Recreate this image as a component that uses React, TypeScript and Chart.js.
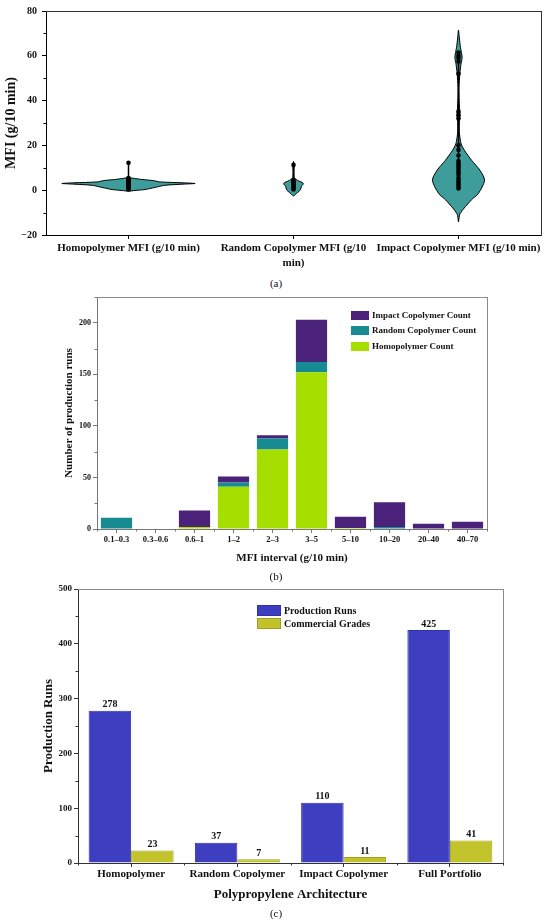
import { useEffect, useRef } from "react";
import { Chart, registerables } from "chart.js";

Chart.register(...registerables);

const SERIF = "'Liberation Serif', 'DejaVu Serif', serif";
Chart.defaults.font.family = SERIF;
Chart.defaults.color = "#111";

// ---- (a) violin plot ----
const violinLabels = [
  ["Homopolymer MFI (g/10 min)"],
  ["Random Copolymer MFI (g/10", "min)"],
  ["Impact Copolymer MFI (g/10 min)"],
];

// density outline: MFI level -> half width (in category units)
const homoLevels = [-0.5, -0.2, 0.3, 1.0, 1.5, 2.2, 2.7, 3.0, 3.3, 3.7, 4.3, 4.8, 5.3, 5.6];
const homoWidths = [0, 0.03, 0.1, 0.145, 0.176, 0.22, 0.33, 0.404, 0.33, 0.19, 0.15, 0.08, 0.03, 0];
const randomLevels = [-2.7, -1.8, -1, 0, 1, 2, 2.8, 3.4, 4, 4.8, 5.5, 8, 11, 12, 12.9];
const randomWidths = [0, 0.012, 0.025, 0.04, 0.045, 0.05, 0.06, 0.055, 0.035, 0.015, 0.005, 0.003, 0.004, 0.002, 0];
const impactLevels = [-14.2, -10.4, -4.4, -1.5, 4.4, 8.9, 13.3, 17.8, 20.7, 25.2, 29.6, 34, 40, 45.9, 51.9, 56.3, 59.3, 63.7, 68, 71.5];
const impactWidths = [0, 0.01, 0.077, 0.12, 0.158, 0.13, 0.08, 0.036, 0.016, 0.006, 0.005, 0.008, 0.004, 0.003, 0.008, 0.015, 0.022, 0.012, 0.005, 0];

// individual runs shown as dots
const homoPoints = [0.4, 0.8, 1.2, 1.6, 2, 2.3, 2.6, 3, 3.2, 3.5, 3.8, 4.2, 4.6, 5, 5.4, 12.2];
const randomPoints = [0.3, 0.8, 1.5, 2, 2.5, 3, 3.5, 4, 4.5, 11.3];
const impactPoints = [0.8, 1.5, 2.5, 3.5, 4.5, 5.5, 7, 8, 9, 10, 11, 12, 13, 15.5, 18, 20, 32, 33.5, 35, 52, 57.5, 59, 60, 61.5];

// ---- (b) stacked histogram ----
const intervals = ["0.1–0.3", "0.3–0.6", "0.6–1", "1–2", "2–3", "3–5", "5–10", "10–20", "20–40", "40–70"];
const homoCounts = [0, 0, 2, 41, 77, 152, 1, 0, 0, 0];
const randomCounts = [11, 0, 0, 4, 11, 10, 0, 2, 0, 0];
const impactCounts = [0, 0, 16, 6, 3, 41, 11, 24, 5, 7];

// ---- (c) grouped bars ----
const architectures = ["Homopolymer", "Random Copolymer", "Impact Copolymer", "Full Portfolio"];
const productionRuns = [278, 37, 110, 425];
const commercialGrades = [23, 7, 11, 41];

const VIOLIN = "#3e9d9b";
const PURPLE = "#4b2279";
const TEAL = "#178a92";
const GREEN = "#a6de00";
const BLUE = "#3e3ec0";
const OLIVE = "#c2c22b";

// minor ticks on the value axis and at category boundaries
const decor = {
  id: "decor",
  afterDraw(chart: any, _args: any, opts: any) {
    const { ctx, chartArea: a } = chart;
    ctx.save();
    ctx.setLineDash([]);
    ctx.globalAlpha = 1;
    ctx.lineWidth = 1;
    ctx.strokeStyle = opts.tickColor || "#000";
    const y = chart.scales.y;
    if (opts.minorStep) {
      for (let v = y.min; v <= y.max; v += opts.minorStep) {
        if (Math.abs(v % opts.majorStep) < 1e-6) continue;
        const py = Math.round(y.getPixelForValue(v)) + 0.5;
        ctx.beginPath();
        ctx.moveTo(a.left - 2.5, py);
        ctx.lineTo(a.left, py);
        ctx.stroke();
      }
    }
    if (opts.boundaries) {
      const x = chart.scales.x;
      const n = chart.data.labels.length;
      const half = (x.getPixelForValue(1) - x.getPixelForValue(0)) / 2;
      for (let i = 0; i <= n; i++) {
        const px = Math.round(x.getPixelForValue(i) - half) + 0.5;
        ctx.beginPath();
        ctx.moveTo(px, a.bottom);
        ctx.lineTo(px, a.bottom + 2.5);
        ctx.stroke();
      }
    }
    ctx.restore();
  },
};

const barValues = {
  id: "barValues",
  afterDatasetsDraw(chart: any, _args: any, opts: any) {
    if (!opts.display) return;
    const { ctx } = chart;
    ctx.save();
    ctx.font = `bold 10px ${SERIF}`;
    ctx.fillStyle = "#111";
    ctx.textAlign = "center";
    ctx.textBaseline = "bottom";
    chart.data.datasets.forEach((ds: any, i: number) => {
      chart.getDatasetMeta(i).data.forEach((el: any, j: number) => {
        ctx.fillText(String(ds.data[j]), el.x, el.y - 1);
      });
    });
    ctx.restore();
  },
};

// empty top/right axes that only draw the frame
function frameAxes(color: string): any {
  const base = {
    type: "linear",
    display: true,
    grid: { display: false, drawTicks: false },
    ticks: { display: false },
    border: { display: true, color },
  };
  return {
    xTop: { ...base, position: "top", afterFit: (s: any) => { s.height = 0; } },
    yRight: { ...base, position: "right", afterFit: (s: any) => { s.width = 0; } },
  };
}

function outline(center: number, levels: number[], widths: number[]) {
  const right = levels.map((v, i) => ({ x: center + widths[i], y: v }));
  const left = levels.map((v, i) => ({ x: center - widths[i], y: v })).reverse().slice(1);
  return [...right, ...left];
}

function violinConfig(): any {
  const groups = [
    { levels: homoLevels, widths: homoWidths, points: homoPoints },
    { levels: randomLevels, widths: randomWidths, points: randomPoints },
    { levels: impactLevels, widths: impactWidths, points: impactPoints },
  ];
  const datasets: any[] = [];
  groups.forEach((g, i) => {
    const c = i + 1;
    datasets.push({
      data: outline(c, g.levels, g.widths),
      showLine: true,
      fill: "shape",
      backgroundColor: VIOLIN,
      borderColor: "#000",
      borderWidth: 1,
      pointRadius: 0,
      tension: 0.25,
      order: 3,
    });
    datasets.push({
      data: [
        { x: c, y: Math.min(...g.points) },
        { x: c, y: Math.max(...g.points) },
      ],
      showLine: true,
      borderColor: "#000",
      borderWidth: 1.5,
      pointRadius: 0,
      order: 2,
    });
    datasets.push({
      data: g.points.map((v) => ({ x: c, y: v })),
      showLine: false,
      pointRadius: 2.3,
      backgroundColor: "#000",
      borderColor: "#000",
      borderWidth: 0,
      order: 1,
    });
  });

  return {
    type: "scatter",
    data: { datasets },
    options: {
      animation: false,
      responsive: true,
      maintainAspectRatio: false,
      layout: { padding: { top: 10, right: 9, left: 0, bottom: 0 }, autoPadding: false },
      plugins: {
        legend: { display: false },
        tooltip: { enabled: false },
        decor: { tickColor: "#000", minorStep: 10, majorStep: 20 },
      },
      scales: {
        x: {
          type: "linear",
          position: "bottom",
          min: 0.5,
          max: 3.5,
          afterBuildTicks: (s: any) => {
            s.ticks = [1, 2, 3].map((v) => ({ value: v }));
          },
          afterFit: (s: any) => {
            s.height = 35;
          },
          ticks: {
            callback: (v: any) => violinLabels[Number(v) - 1],
            font: { size: 11, weight: "bold", lineHeight: 1.35 },
            padding: 2,
            maxRotation: 0,
            autoSkip: false,
            color: "#111",
          },
          grid: { drawOnChartArea: false, tickLength: 4, tickColor: "#000" },
          border: { color: "#000" },
        },
        y: {
          position: "left",
          min: -20,
          max: 80,
          afterFit: (s: any) => {
            s.width = 46;
          },
          ticks: {
            stepSize: 20,
            callback: (v: any) => (v < 0 ? "−" + Math.abs(v) : String(v)),
            font: { size: 10, weight: "bold" },
            padding: 5,
            color: "#111",
          },
          grid: { drawOnChartArea: false, tickLength: 4, tickColor: "#000" },
          border: { color: "#000" },
          title: {
            display: true,
            text: "MFI (g/10 min)",
            font: { size: 14, weight: "bold" },
            padding: { top: 2.6, bottom: 0 },
            color: "#111",
          },
        },
        ...frameAxes("#333"),
      },
    },
    plugins: [decor],
  };
}

function histConfig(): any {
  return {
    type: "bar",
    data: {
      labels: intervals,
      datasets: [
        { label: "Homopolymer Count", data: homoCounts, backgroundColor: GREEN },
        { label: "Random Copolymer Count", data: randomCounts, backgroundColor: TEAL },
        { label: "Impact Copolymer Count", data: impactCounts, backgroundColor: PURPLE },
      ],
    },
    options: {
      animation: false,
      responsive: true,
      maintainAspectRatio: false,
      datasets: { bar: { categoryPercentage: 0.8, barPercentage: 1 } },
      layout: { padding: { top: 7, right: 63, left: 0, bottom: 0 }, autoPadding: false },
      plugins: {
        legend: { display: false },
        tooltip: { enabled: false },
        decor: { tickColor: "#777", minorStep: 25, majorStep: 50, boundaries: true },
      },
      scales: {
        x: {
          stacked: true,
          position: "bottom",
          afterFit: (s: any) => {
            s.height = 41;
          },
          ticks: { font: { size: 8.5, weight: "bold" }, padding: 1.5, maxRotation: 0, autoSkip: false, color: "#111" },
          grid: { drawOnChartArea: false, offset: false, tickLength: 4, tickColor: "#777" },
          border: { color: "#777" },
          title: {
            display: true,
            text: "MFI interval (g/10 min)",
            font: { size: 11, weight: "bold" },
            padding: { top: 0, bottom: 5.4 },
            color: "#111",
          },
        },
        y: {
          stacked: true,
          position: "left",
          min: 0,
          max: 225,
          afterFit: (s: any) => {
            s.width = 97;
          },
          ticks: { stepSize: 50, includeBounds: false, font: { size: 8, weight: "bold" }, padding: 2, color: "#111" },
          grid: { drawOnChartArea: false, tickLength: 4, tickColor: "#777" },
          border: { color: "#777" },
          title: {
            display: true,
            text: "Number of production runs",
            font: { size: 11, weight: "bold" },
            padding: { top: 63, bottom: 0 },
            color: "#111",
          },
        },
        ...frameAxes("#8a8a8a"),
      },
    },
    plugins: [decor],
  };
}

function runsConfig(): any {
  return {
    type: "bar",
    data: {
      labels: architectures,
      datasets: [
        { label: "Production Runs", data: productionRuns, backgroundColor: BLUE, borderColor: "#3030aa", borderWidth: 1 },
        { label: "Commercial Grades", data: commercialGrades, backgroundColor: OLIVE, borderColor: "#a0a01c", borderWidth: 1 },
      ],
    },
    options: {
      animation: false,
      responsive: true,
      maintainAspectRatio: false,
      datasets: { bar: { categoryPercentage: 0.8, barPercentage: 1 } },
      layout: { padding: { top: 9, right: 47, left: 0, bottom: 0 }, autoPadding: false },
      plugins: {
        legend: { display: false },
        tooltip: { enabled: false },
        decor: { tickColor: "#333", minorStep: 50, majorStep: 100, boundaries: true },
        barValues: { display: true },
      },
      scales: {
        x: {
          position: "bottom",
          afterFit: (s: any) => {
            s.height = 42;
          },
          ticks: { font: { size: 11, weight: "bold" }, padding: 1, maxRotation: 0, autoSkip: false, color: "#111" },
          grid: { drawOnChartArea: false, offset: false, tickLength: 4, tickColor: "#333" },
          border: { color: "#333" },
          title: {
            display: true,
            text: "Polypropylene Architecture",
            font: { size: 13, weight: "bold" },
            padding: { top: 0, bottom: 2.2 },
            color: "#111",
          },
        },
        y: {
          position: "left",
          min: 0,
          max: 500,
          afterFit: (s: any) => {
            s.width = 78;
          },
          ticks: { stepSize: 100, font: { size: 9, weight: "bold" }, padding: 2, color: "#111" },
          grid: { drawOnChartArea: false, tickLength: 4, tickColor: "#333" },
          border: { color: "#333" },
          title: {
            display: true,
            text: "Production Runs",
            font: { size: 13, weight: "bold" },
            padding: { top: 41, bottom: 0 },
            color: "#111",
          },
        },
        ...frameAxes("#8a8a8a"),
      },
    },
    plugins: [decor, barValues],
  };
}

function Panel({ top, height, make }: { top: number; height: number; make: () => any }) {
  const ref = useRef<HTMLCanvasElement>(null);
  useEffect(() => {
    if (!ref.current) return;
    const chart = new Chart(ref.current, make());
    return () => chart.destroy();
  }, []);
  return (
    <div style={{ position: "absolute", left: 0, top, width: 550, height }}>
      <canvas ref={ref} />
    </div>
  );
}

function Caption({ y, text }: { y: number; text: string }) {
  return (
    <div
      style={{
        position: "absolute",
        left: 0,
        width: 552,
        top: y - 8,
        height: 16,
        lineHeight: "16px",
        textAlign: "center",
        fontSize: 11,
        color: "#111",
      }}
    >
      {text}
    </div>
  );
}

function LegendRow({ x, y, w, h, color, border, label, size }: any) {
  return (
    <div style={{ position: "absolute", left: x, top: y - 8, height: 16, display: "flex", alignItems: "center" }}>
      <span
        style={{
          width: w,
          height: h,
          background: color,
          boxSizing: "border-box",
          border: border ? `1px solid ${border}` : "none",
          marginRight: 3,
        }}
      />
      <span style={{ fontSize: size, fontWeight: "bold", color: "#111", whiteSpace: "nowrap" }}>{label}</span>
    </div>
  );
}

export default function App() {
  return (
    <div
      style={{
        position: "absolute",
        left: 0,
        top: 0,
        width: 550,
        height: 923,
        background: "#fff",
        fontFamily: SERIF,
        overflow: "hidden",
      }}
    >
      <Panel top={0} height={270} make={violinConfig} />
      <Caption y={283} text="(a)" />

      <Panel top={290} height={280} make={histConfig} />
      <LegendRow x={351} y={315} w={18} h={9} color={PURPLE} label="Impact Copolymer Count" size={9} />
      <LegendRow x={351} y={330} w={18} h={9} color={TEAL} label="Random Copolymer Count" size={9} />
      <LegendRow x={351} y={346} w={18} h={9} color={GREEN} label="Homopolymer Count" size={9} />
      <Caption y={576} text="(b)" />

      <Panel top={580} height={325} make={runsConfig} />
      <LegendRow x={257} y={610} w={24} h={11} color={BLUE} border="#3030aa" label="Production Runs" size={10} />
      <LegendRow x={257} y={623} w={24} h={11} color={OLIVE} border="#a0a01c" label="Commercial Grades" size={10} />
      <Caption y={913} text="(c)" />
    </div>
  );
}
